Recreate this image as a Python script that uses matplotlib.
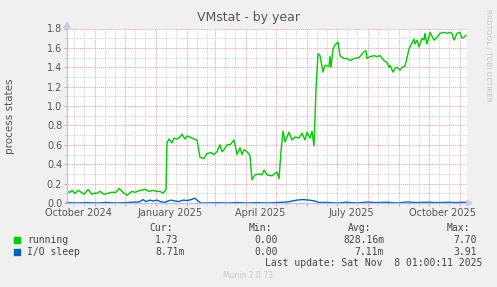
import matplotlib
matplotlib.use("Agg")
import matplotlib.pyplot as plt
import matplotlib.dates as mdates
import numpy as np
from datetime import datetime, timedelta

# ---------------- data ----------------
start_date = datetime(2024, 10, 4, 1, 0)
end_date = datetime(2025, 11, 8, 1, 0)

running_day = [0, 3, 5, 8, 11, 13, 17, 21, 25, 27, 30, 33, 37, 41, 44, 49, 52, 57, 60, 65,
               68, 73, 78, 82, 86, 90, 93, 96, 99, 100, 102, 105, 107, 110, 113, 115, 118,
               120, 123, 127, 130, 133, 137, 140, 144, 147, 150, 153, 155, 157, 160, 163,
               167, 170, 173, 175, 177, 180, 183, 185, 188, 192, 195, 197, 200, 205, 210,
               212, 214, 216, 218, 222, 225, 228, 232, 235, 238, 240, 243, 245, 247, 249,
               251, 253, 256, 258, 262, 263, 264, 266, 268, 271, 273, 277, 280, 283, 287,
               292, 297, 299, 300, 303, 307, 310, 313, 317, 320, 322, 323, 326, 328, 330,
               333, 335, 338, 342, 343, 347, 348, 350, 352, 355, 357, 358, 360, 363, 367,
               370, 373, 377, 380, 383, 385, 387, 390, 393, 395, 397, 399]
running_val = [0.12, 0.11, 0.13, 0.10, 0.13, 0.12, 0.09, 0.14, 0.09, 0.10, 0.10, 0.12, 0.09,
               0.10, 0.11, 0.11, 0.15, 0.10, 0.08, 0.12, 0.11, 0.13, 0.14, 0.12, 0.13, 0.12,
               0.12, 0.10, 0.14, 0.62, 0.66, 0.62, 0.67, 0.66, 0.68, 0.71, 0.66, 0.69, 0.68,
               0.66, 0.65, 0.47, 0.46, 0.51, 0.52, 0.50, 0.53, 0.60, 0.53, 0.55, 0.60, 0.60,
               0.65, 0.50, 0.57, 0.50, 0.55, 0.53, 0.49, 0.24, 0.29, 0.30, 0.29, 0.34, 0.29,
               0.28, 0.32, 0.25, 0.53, 0.74, 0.63, 0.73, 0.65, 0.68, 0.67, 0.72, 0.65, 0.73,
               0.67, 0.74, 0.59, 1.18, 1.54, 1.52, 1.35, 1.42, 1.41, 1.51, 1.40, 1.59, 1.63,
               1.66, 1.52, 1.49, 1.49, 1.47, 1.49, 1.50, 1.56, 1.57, 1.49, 1.51, 1.52, 1.51,
               1.52, 1.47, 1.45, 1.40, 1.42, 1.35, 1.39, 1.40, 1.37, 1.40, 1.41, 1.59, 1.61,
               1.69, 1.64, 1.68, 1.61, 1.70, 1.68, 1.75, 1.64, 1.76, 1.68, 1.71, 1.75, 1.76,
               1.75, 1.76, 1.75, 1.68, 1.75, 1.76, 1.70, 1.71, 1.73]

io_day = [0, 10, 20, 30, 40, 50, 58, 65, 72, 76, 79, 83, 86, 90, 94, 98, 101, 104, 108, 112,
          116, 120, 124, 128, 131, 134, 140, 150, 160, 170, 180, 190, 200, 210, 220, 230, 236,
          242, 248, 252, 260, 270, 280, 290, 300, 310, 320, 330, 340, 350, 360, 370, 380,
          390, 399]
io_val = [0.005, 0.0, 0.005, 0.0, 0.006, 0.0, 0.004, 0.008, 0.01, 0.035, 0.015, 0.03, 0.02,
          0.03, 0.012, 0.008, 0.02, 0.03, 0.02, 0.015, 0.03, 0.025, 0.035, 0.05, 0.02, 0.0,
          0.0, 0.003, 0.0, 0.005, 0.0, 0.004, 0.0, 0.005, 0.01, 0.03, 0.035, 0.03, 0.02,
          0.005, 0.006, 0.0, 0.008, 0.0, 0.01, 0.004, 0.008, 0.0, 0.01, 0.004, 0.008, 0.004,
          0.007, 0.005, 0.008]

y_ticks = [0.0, 0.2, 0.4, 0.6, 0.8, 1.0, 1.2, 1.4, 1.6, 1.8]
x_labels = ["October 2024", "January 2025", "April 2025", "July 2025", "October 2025"]
x_label_dates = [datetime(2024, 10, 15), datetime(2025, 1, 15), datetime(2025, 4, 15),
                 datetime(2025, 7, 15), datetime(2025, 10, 15)]

series_names = ["running", "I/O sleep"]
series_colors = ["#00cc00", "#0066b3"]
stat_cur = ["1.73", "8.71m"]
stat_min = ["0.00", "0.00"]
stat_avg = ["828.16m", "7.11m"]
stat_max = ["7.70", "3.91"]

# ---------------- figure ----------------
W, H = 497, 287
fig = plt.figure(figsize=(W / 100, H / 100), dpi=100)
fig.patch.set_facecolor("#f0f0f0")

def fx(x):
    return x / W

def fy(y):
    return 1 - y / H

L, R, T, B = 67, 467, 28.5, 203
ax = fig.add_axes([fx(L), fy(B), (R - L) / W, (B - T) / H])
ax.set_facecolor("white")

run_dates = [start_date + timedelta(days=d) for d in running_day]
io_dates = [start_date + timedelta(days=d) for d in io_day]

ax.set_xlim(start_date, end_date)
ax.set_ylim(0, 1.8)

# grid
dot = (0, (1, 1))
ax.xaxis.set_major_locator(mdates.MonthLocator())
ax.xaxis.set_minor_locator(mdates.DayLocator(bymonthday=[11, 21]))
ax.set_yticks(y_ticks)
ax.set_yticks(np.arange(0.1, 1.8, 0.2), minor=True)
ax.grid(which="minor", color="#cfcfcf", linestyle=dot, linewidth=0.75)
ax.grid(which="major", color="#eaa4a4", linestyle=dot, linewidth=0.75)
ax.set_axisbelow(True)

ax.set_xticklabels([])
ax.tick_params(axis="x", which="major", length=2, color="#ee9999", labelbottom=False)
ax.tick_params(axis="x", which="minor", length=2, color="#cccccc")
ax.tick_params(axis="y", which="major", length=2, color="#ee9999", labelsize=7,
               labelcolor="#555555", pad=1.5)
ax.tick_params(axis="y", which="minor", length=2, color="#cccccc")
ax.set_yticklabels([f"{v:.1f}" for v in y_ticks])

for s in ["top", "right"]:
    ax.spines[s].set_visible(False)
for s in ["left", "bottom"]:
    ax.spines[s].set_color("#b8c4ee")
    ax.spines[s].set_linewidth(0.9)
    ax.spines[s].set_zorder(6)

# data lines
ax.plot(run_dates, running_val, color=series_colors[0], linewidth=1.0, zorder=3)
ax.plot(io_dates, io_val, color=series_colors[1], linewidth=1.0, zorder=4, clip_on=False)

# x labels
for d, lab in zip(x_label_dates, x_labels):
    ax.text(d, -0.055, lab, transform=ax.get_xaxis_transform(), ha="center", va="center",
            fontsize=7, color="#555555")

# axis arrows
fig.patches.append(plt.Polygon([[fx(467), fy(200)], [fx(467), fy(206)], [fx(472), fy(203)]],
                               closed=True, transform=fig.transFigure, color="#c0ccf4"))
fig.patches.append(plt.Polygon([[fx(64), fy(28)], [fx(70), fy(28)], [fx(67), fy(22)]],
                               closed=True, transform=fig.transFigure, color="#c0ccf4"))

# title and labels
fig.text(fx(249), fy(17), "VMstat - by year", ha="center", va="center", fontsize=9,
         color="#555555")
fig.text(fx(10), fy(116), "process states", ha="center", va="center", rotation=90,
         fontsize=7.5, color="#555555")
fig.text(fx(488), fy(55), "RRDTOOL / TOBI OETIKER", ha="center", va="center", rotation=270,
         fontsize=5.2, color="#c4c4c4")

# legend
mono = "DejaVu Sans Mono"
tc = "#444444"
fs = 7
hdr_y = 228
fig.text(fx(149), fy(hdr_y), "Cur:", fontsize=fs, family=mono, color=tc, va="center")
fig.text(fx(249), fy(hdr_y), "Min:", fontsize=fs, family=mono, color=tc, va="center")
fig.text(fx(348), fy(hdr_y), "Avg:", fontsize=fs, family=mono, color=tc, va="center")
fig.text(fx(447), fy(hdr_y), "Max:", fontsize=fs, family=mono, color=tc, va="center")

row_y = [240, 252]
for i in range(2):
    y = row_y[i]
    fig.patches.append(plt.Rectangle((fx(14), fy(y + 3)), 6 / W, 6 / H,
                                     transform=fig.transFigure, color=series_colors[i]))
    fig.text(fx(27), fy(y), series_names[i], fontsize=fs, family=mono, color=tc, va="center")
    fig.text(fx(155), fy(y), stat_cur[i], fontsize=fs, family=mono, color=tc, va="center",
             ha="left")
    fig.text(fx(278), fy(y), stat_min[i], fontsize=fs, family=mono, color=tc, va="center",
             ha="right")
    fig.text(fx(384), fy(y), stat_avg[i], fontsize=fs, family=mono, color=tc, va="center",
             ha="right")
    fig.text(fx(477), fy(y), stat_max[i], fontsize=fs, family=mono, color=tc, va="center",
             ha="right")

fig.text(fx(482), fy(263), "Last update: Sat Nov  8 01:00:11 2025", fontsize=fs, family=mono,
         color=tc, va="center", ha="right")
fig.text(fx(248), fy(276), "Munin 2.0.73", fontsize=5.5, color="#c8c8c8", ha="center",
         va="center")

fig.savefig("out.png", dpi=100, facecolor=fig.get_facecolor())
